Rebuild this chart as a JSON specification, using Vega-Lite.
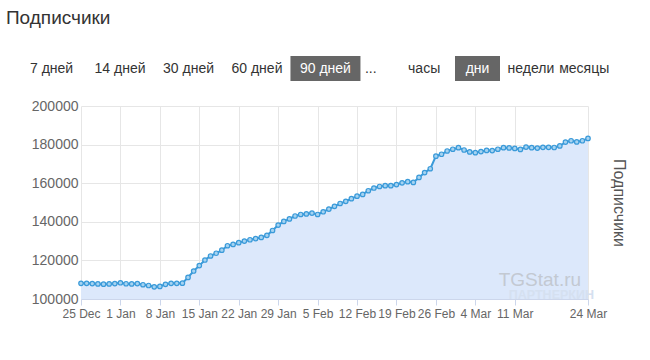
{
  "$schema": "https://vega.github.io/schema/vega-lite/v6.json",
  "background": "white",
  "padding": {"left": 5, "top": 9, "right": 5, "bottom": 5},
  "title": {"text": "Подписчики", "anchor": "start", "fontSize": 19, "fontWeight": "normal", "font": "Liberation Sans", "color": "#333333", "dx": -24, "offset": 28},
  "columns": 1,
  "align": "none",
  "spacing": 18,
  "concat": [
    {
      "data": {"values": [
        {"label": "7 дней", "group": "period", "active": false},
        {"label": "14 дней", "group": "period", "active": false},
        {"label": "30 дней", "group": "period", "active": false},
        {"label": "60 дней", "group": "period", "active": false},
        {"label": "90 дней", "group": "period", "active": true},
        {"label": "...", "group": "unit", "active": false},
        {"label": "часы", "group": "unit", "active": false},
        {"label": "дни", "group": "unit", "active": true},
        {"label": "недели", "group": "unit", "active": false},
        {"label": "месяцы", "group": "unit", "active": false}
      ]},
      "spacing": 0,
      "bounds": "flush",
      "hconcat": [
        {
          "width": 315,
          "height": 25,
          "transform": [{"filter": "datum.group === 'period'"}],
          "encoding": {
            "x": {"field": "label", "type": "nominal", "scale": {"type": "point", "domain": ["7 дней", "14 дней", "30 дней", "60 дней", "90 дней"], "padding": 0.3}, "axis": null},
            "y": {"datum": "buttons", "type": "nominal", "scale": {"type": "band", "padding": 0}, "axis": null}
          },
          "layer": [
            {
              "transform": [{"filter": "datum.active"}],
              "mark": {"type": "rect", "width": 70, "color": "#666666"}
            },
            {
              "mark": {"type": "text", "fontSize": 14, "font": "Liberation Sans", "baseline": "middle"},
              "encoding": {
                "text": {"field": "label"},
                "color": {"condition": {"test": "datum.active", "value": "#ffffff"}, "value": "#333333"}
              }
            }
          ]
        },
        {
          "width": 263,
          "height": 25,
          "transform": [{"filter": "datum.group === 'unit'"}],
          "encoding": {
            "x": {"field": "label", "type": "nominal", "scale": {"type": "point", "domain": ["...", "часы", "дни", "недели", "месяцы"], "padding": 0.464}, "axis": null},
            "y": {"datum": "buttons", "type": "nominal", "scale": {"type": "band", "padding": 0}, "axis": null}
          },
          "layer": [
            {
              "transform": [{"filter": "datum.active"}],
              "mark": {"type": "rect", "width": 45, "color": "#666666"}
            },
            {
              "mark": {"type": "text", "fontSize": 14, "font": "Liberation Sans", "baseline": "middle"},
              "encoding": {
                "text": {"field": "label"},
                "color": {"condition": {"test": "datum.active", "value": "#ffffff"}, "value": "#333333"}
              }
            }
          ]
        }
      ]
    },
    {
      "data": {"values": [
        {"date": "2023-12-25", "subs": 108100},
        {"date": "2023-12-26", "subs": 108100},
        {"date": "2023-12-27", "subs": 108000},
        {"date": "2023-12-28", "subs": 107800},
        {"date": "2023-12-29", "subs": 107700},
        {"date": "2023-12-30", "subs": 107800},
        {"date": "2023-12-31", "subs": 108000},
        {"date": "2024-01-01", "subs": 108400},
        {"date": "2024-01-02", "subs": 107900},
        {"date": "2024-01-03", "subs": 107800},
        {"date": "2024-01-04", "subs": 108000},
        {"date": "2024-01-05", "subs": 107400},
        {"date": "2024-01-06", "subs": 107000},
        {"date": "2024-01-07", "subs": 106300},
        {"date": "2024-01-08", "subs": 106500},
        {"date": "2024-01-09", "subs": 107600},
        {"date": "2024-01-10", "subs": 108100},
        {"date": "2024-01-11", "subs": 108100},
        {"date": "2024-01-12", "subs": 108200},
        {"date": "2024-01-13", "subs": 111200},
        {"date": "2024-01-14", "subs": 114500},
        {"date": "2024-01-15", "subs": 117300},
        {"date": "2024-01-16", "subs": 120200},
        {"date": "2024-01-17", "subs": 122300},
        {"date": "2024-01-18", "subs": 123700},
        {"date": "2024-01-19", "subs": 125300},
        {"date": "2024-01-20", "subs": 127600},
        {"date": "2024-01-21", "subs": 128300},
        {"date": "2024-01-22", "subs": 129200},
        {"date": "2024-01-23", "subs": 130000},
        {"date": "2024-01-24", "subs": 130700},
        {"date": "2024-01-25", "subs": 131300},
        {"date": "2024-01-26", "subs": 131900},
        {"date": "2024-01-27", "subs": 133000},
        {"date": "2024-01-28", "subs": 135500},
        {"date": "2024-01-29", "subs": 138300},
        {"date": "2024-01-30", "subs": 140200},
        {"date": "2024-01-31", "subs": 141500},
        {"date": "2024-02-01", "subs": 143000},
        {"date": "2024-02-02", "subs": 143800},
        {"date": "2024-02-03", "subs": 144100},
        {"date": "2024-02-04", "subs": 144500},
        {"date": "2024-02-05", "subs": 143800},
        {"date": "2024-02-06", "subs": 145200},
        {"date": "2024-02-07", "subs": 146600},
        {"date": "2024-02-08", "subs": 148000},
        {"date": "2024-02-09", "subs": 149500},
        {"date": "2024-02-10", "subs": 150600},
        {"date": "2024-02-11", "subs": 152000},
        {"date": "2024-02-12", "subs": 153300},
        {"date": "2024-02-13", "subs": 154200},
        {"date": "2024-02-14", "subs": 156100},
        {"date": "2024-02-15", "subs": 157500},
        {"date": "2024-02-16", "subs": 158300},
        {"date": "2024-02-17", "subs": 158700},
        {"date": "2024-02-18", "subs": 158700},
        {"date": "2024-02-19", "subs": 159300},
        {"date": "2024-02-20", "subs": 160200},
        {"date": "2024-02-21", "subs": 160800},
        {"date": "2024-02-22", "subs": 160400},
        {"date": "2024-02-23", "subs": 163000},
        {"date": "2024-02-24", "subs": 165500},
        {"date": "2024-02-25", "subs": 167500},
        {"date": "2024-02-26", "subs": 174000},
        {"date": "2024-02-27", "subs": 175000},
        {"date": "2024-02-28", "subs": 176700},
        {"date": "2024-02-29", "subs": 177600},
        {"date": "2024-03-01", "subs": 178400},
        {"date": "2024-03-02", "subs": 177200},
        {"date": "2024-03-03", "subs": 176200},
        {"date": "2024-03-04", "subs": 175800},
        {"date": "2024-03-05", "subs": 176400},
        {"date": "2024-03-06", "subs": 177000},
        {"date": "2024-03-07", "subs": 176900},
        {"date": "2024-03-08", "subs": 177600},
        {"date": "2024-03-09", "subs": 178400},
        {"date": "2024-03-10", "subs": 178300},
        {"date": "2024-03-11", "subs": 178000},
        {"date": "2024-03-12", "subs": 177500},
        {"date": "2024-03-13", "subs": 178700},
        {"date": "2024-03-14", "subs": 178400},
        {"date": "2024-03-15", "subs": 178200},
        {"date": "2024-03-16", "subs": 178600},
        {"date": "2024-03-17", "subs": 178600},
        {"date": "2024-03-18", "subs": 178500},
        {"date": "2024-03-19", "subs": 179300},
        {"date": "2024-03-20", "subs": 181300},
        {"date": "2024-03-21", "subs": 182000},
        {"date": "2024-03-22", "subs": 181400},
        {"date": "2024-03-23", "subs": 182000},
        {"date": "2024-03-24", "subs": 183200}
      ]},
      "spacing": 0,
      "bounds": "flush",
      "hconcat": [
        {
          "width": 50,
          "height": 193,
          "mark": {"type": "point", "opacity": 0},
          "encoding": {
            "y": {
              "field": "subs", "type": "quantitative",
              "scale": {"domain": [100000, 200000], "nice": false, "zero": false},
              "axis": {
                "orient": "left", "offset": -50,
                "title": null,
                "values": [100000, 120000, 140000, 160000, 180000, 200000],
                "format": "d",
                "labelFont": "Liberation Sans", "labelFontSize": 14, "labelColor": "#666666", "labelPadding": 3,
                "ticks": false, "domain": false, "grid": false
              }
            }
          }
        },
        {
          "width": 507,
          "height": 193,
          "layer": [
            {
              "mark": {"type": "area", "color": "#dce8fb", "opacity": 1, "clip": true},
              "encoding": {
                "x": {
                  "field": "date", "type": "temporal",
                  "scale": {"type": "utc", "domain": [{"year": 2023, "month": 12, "date": 25, "utc": true}, {"year": 2024, "month": 3, "date": 24, "utc": true}], "nice": false},
                  "axis": {
                    "title": null,
                    "values": [
                      {"year": 2023, "month": 12, "date": 25, "utc": true},
                      {"year": 2024, "month": 1, "date": 1, "utc": true},
                      {"year": 2024, "month": 1, "date": 8, "utc": true},
                      {"year": 2024, "month": 1, "date": 15, "utc": true},
                      {"year": 2024, "month": 1, "date": 22, "utc": true},
                      {"year": 2024, "month": 1, "date": 29, "utc": true},
                      {"year": 2024, "month": 2, "date": 5, "utc": true},
                      {"year": 2024, "month": 2, "date": 12, "utc": true},
                      {"year": 2024, "month": 2, "date": 19, "utc": true},
                      {"year": 2024, "month": 2, "date": 26, "utc": true},
                      {"year": 2024, "month": 3, "date": 4, "utc": true},
                      {"year": 2024, "month": 3, "date": 11, "utc": true},
                      {"year": 2024, "month": 3, "date": 24, "utc": true}
                    ],
                    "labelExpr": "utcFormat(datum.value, '%-d %b')",
                    "labelFlush": false, "labelOverlap": false,
                    "labelFont": "Liberation Sans", "labelFontSize": 12, "labelColor": "#666666", "labelPadding": 3,
                    "tickColor": "#ccd6eb", "tickSize": 6,
                    "domainColor": "#ccd6eb",
                    "grid": true, "gridColor": "#e6e6e6"
                  }
                },
                "y": {
                  "field": "subs", "type": "quantitative",
                  "scale": {"domain": [100000, 200000], "nice": false, "zero": false},
                  "axis": {
                    "title": null,
                    "values": [100000, 120000, 140000, 160000, 180000, 200000],
                    "labels": false, "ticks": false, "domain": false,
                    "grid": true, "gridColor": "#e6e6e6"
                  }
                }
              }
            },
            {
              "mark": {"type": "line", "color": "#3a9ad9", "strokeWidth": 2},
              "encoding": {
                "x": {"field": "date", "type": "temporal"},
                "y": {
                  "field": "subs", "type": "quantitative",
                  "axis": {
                    "orient": "right", "title": "Подписчики", "labels": false, "ticks": false, "domain": false, "grid": false,
                    "titleFont": "Liberation Sans", "titleFontSize": 16, "titleFontWeight": "normal", "titleColor": "#555555", "titlePadding": 22
                  }
                }
              }
            },
            {
              "mark": {"type": "point", "filled": true, "fill": "#a6d3f1", "stroke": "#3a9ad9", "strokeWidth": 1.2, "size": 20, "opacity": 1},
              "encoding": {
                "x": {"field": "date", "type": "temporal"},
                "y": {"field": "subs", "type": "quantitative", "axis": null}
              }
            },
            {
              "data": {"values": [{"mark": "TGStat.ru"}]},
              "mark": {"type": "text", "font": "Liberation Sans", "fontSize": 19, "color": "#c3c9d2", "baseline": "middle", "align": "center"},
              "encoding": {
                "x": {"datum": {"year": 2024, "month": 3, "date": 15, "hours": 11, "utc": true}, "type": "temporal"},
                "y": {"datum": 110000, "type": "quantitative", "axis": null},
                "text": {"field": "mark"}
              }
            },
            {
              "data": {"values": [{"mark": "ПАРТНЕРКИН"}]},
              "mark": {"type": "text", "font": "Liberation Sans", "fontSize": 12.5, "fontWeight": "bold", "color": "#d5e0f0", "baseline": "middle", "align": "center"},
              "encoding": {
                "x": {"datum": {"year": 2024, "month": 3, "date": 17, "hours": 12, "utc": true}, "type": "temporal"},
                "y": {"datum": 101900, "type": "quantitative", "axis": null},
                "text": {"field": "mark"}
              }
            }
          ],
          "resolve": {"axis": {"y": "independent"}}
        }
      ]
    }
  ],
  "config": {"view": {"stroke": null}, "font": "Liberation Sans"}
}
